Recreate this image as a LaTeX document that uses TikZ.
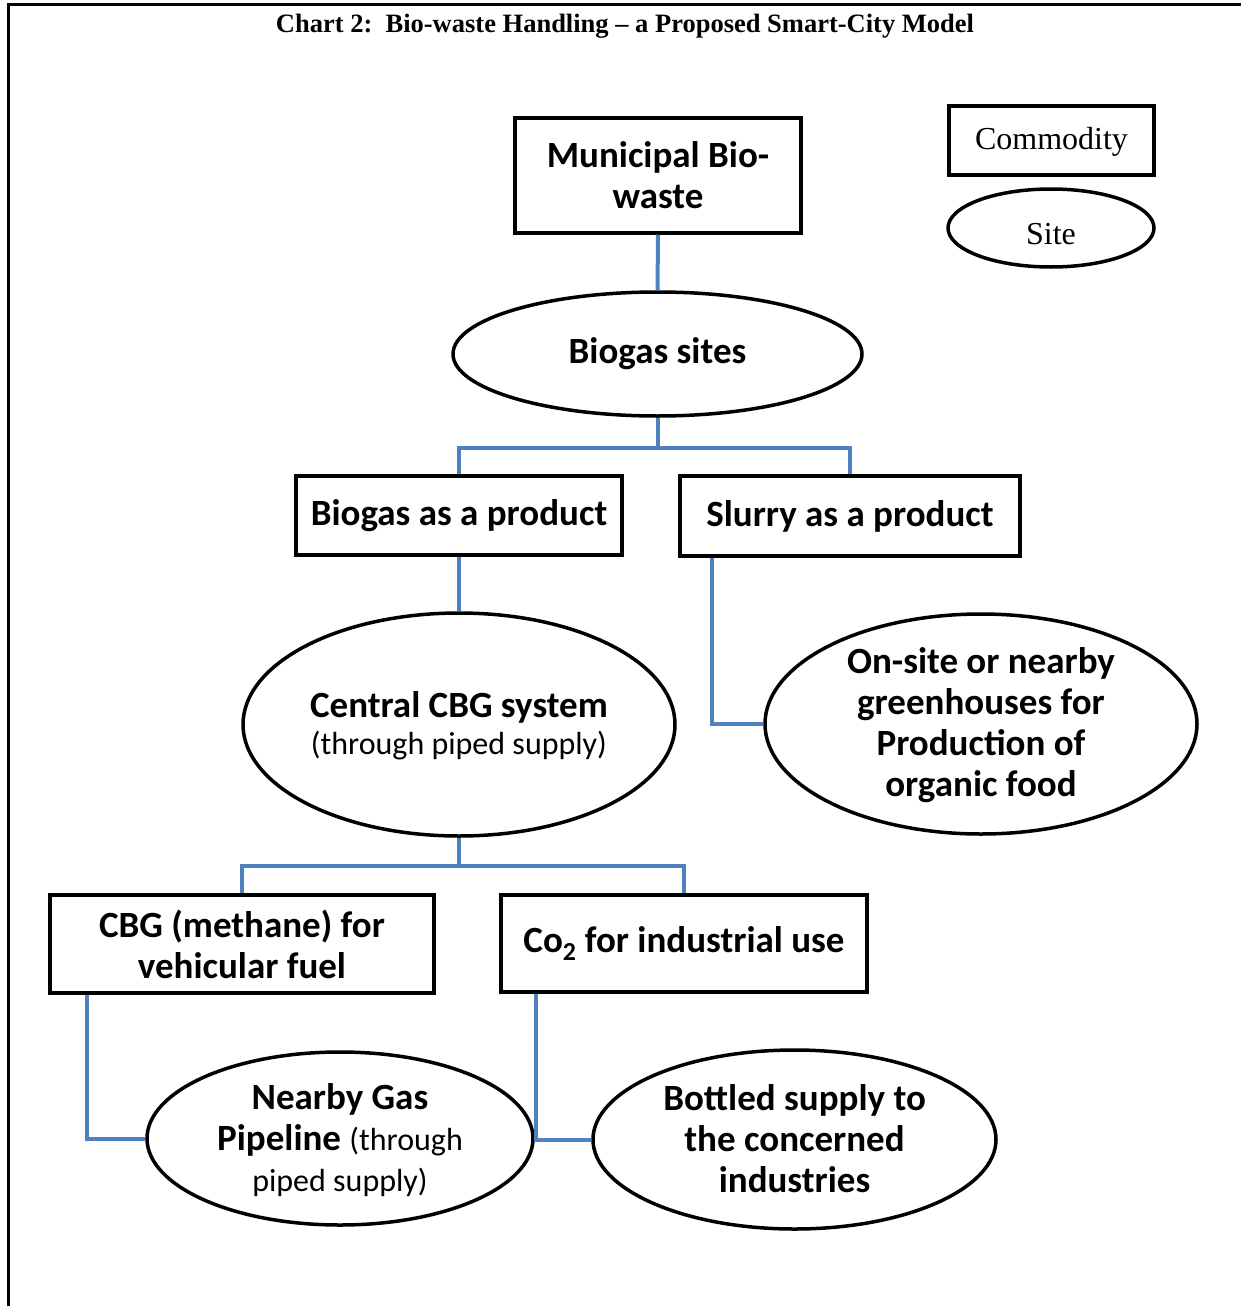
\documentclass[tikz,border=0pt]{standalone}
\usepackage{fontspec}
\setmainfont{Carlito}
\newfontfamily\timesf{Liberation Serif}
\usetikzlibrary{shapes.geometric}
\definecolor{linkblue}{HTML}{4F81BD}
\newcommand{\subfont}{\mdseries\fontsize{32}{39}\selectfont}
\begin{document}
\begin{tikzpicture}[x=1pt,y=-1pt,
  comm/.style={draw, line width=3.5pt, rectangle, inner sep=0pt, align=center},
  site/.style={draw, line width=3.5pt, ellipse, inner sep=0pt},
  lbl/.style={align=center, inner sep=0pt, font=\fontsize{37}{41}\selectfont\bfseries},
  link/.style={draw=linkblue, line width=4pt},
  legend/.style={font=\timesf\fontsize{32}{36}\selectfont}]
\useasboundingbox (0,0) rectangle (1241,1306);
% frame
\draw[line width=3pt] (8,1306) -- (8,5) -- (1241,5);
\node[font=\timesf\bfseries\fontsize{26.5}{30}\selectfont] (title) at (625,26) {Chart 2:\ \ Bio-waste Handling – a Proposed Smart-City Model};
% legend
\node[comm, minimum width=205pt, minimum height=69pt] (lc) at (1051.5,140.5) {};
\node[legend] (lct) at (1051.5,142) {Commodity};
\node[site, minimum width=206pt, minimum height=78pt] (ls) at (1051,228) {};
\node[legend] (lst) at (1051,234) {Site};
% nodes
\node[comm, minimum width=286pt, minimum height=115pt, lbl] (mun) at (658,175.5) {Municipal Bio-\\waste};
\node[site, minimum width=409pt, minimum height=124pt, lbl] (bs) at (657.5,354) {Biogas sites};
\node[comm, minimum width=326pt, minimum height=79pt, lbl] (bp) at (459,515.5) {Biogas as a product};
\node[comm, minimum width=340pt, minimum height=80pt, lbl] (sp) at (850,516) {Slurry as a product};
\node[site, minimum width=432pt, minimum height=223pt] (cc) at (459,724.5) {};
\node[lbl] (cct) at (459,707) {Central CBG system};
\node[lbl, font=\subfont] (ccs) at (459,746) {(through piped supply)};
\node[site, minimum width=432pt, minimum height=220pt] (os) at (981,724) {};
\node[lbl] (ost) at (981,725) {On-site or nearby\\greenhouses for\\Production of\\organic food};
\node[comm, minimum width=384pt, minimum height=98pt, lbl] (cbg) at (242,944) {CBG (methane) for\\vehicular fuel};
\node[comm, minimum width=366pt, minimum height=97pt, lbl] (co) at (684,943.5) {Co\textsubscript{2} for industrial use};
\node[site, minimum width=386pt, minimum height=173pt] (ng) at (340,1138.5) {};
\node[lbl] (ngt) at (340,1140) {Nearby Gas\\Pipeline {\subfont(through}\\{\subfont piped supply)}};
\node[site, minimum width=403pt, minimum height=179pt] (bt) at (794.5,1139.5) {};
\node[lbl] (btt) at (794.5,1139) {Bottled supply to\\the concerned\\industries};
% connectors
\draw[link] (mun.south) -- (bs.north);
\draw[link] (bs.south) -- ++(0,30) coordinate (j1);
\draw[link] (j1) -| (bp.north);
\draw[link] (j1) -| (sp.north);
\draw[link] (bp.south) -- (cct.north |- cc.north);
\draw[link] ([xshift=34pt]sp.south west) |- (os.west);
\draw[link] (cc.south) -- ++(0,28) coordinate (j2);
\draw[link] (j2) -| (cbg.north);
\draw[link] (j2) -| (co.north);
\draw[link] ([xshift=39pt]cbg.south west) |- (ng.west);
\draw[link] ([xshift=37pt]co.south west) |- (bt.west);
\end{tikzpicture}
\end{document}
